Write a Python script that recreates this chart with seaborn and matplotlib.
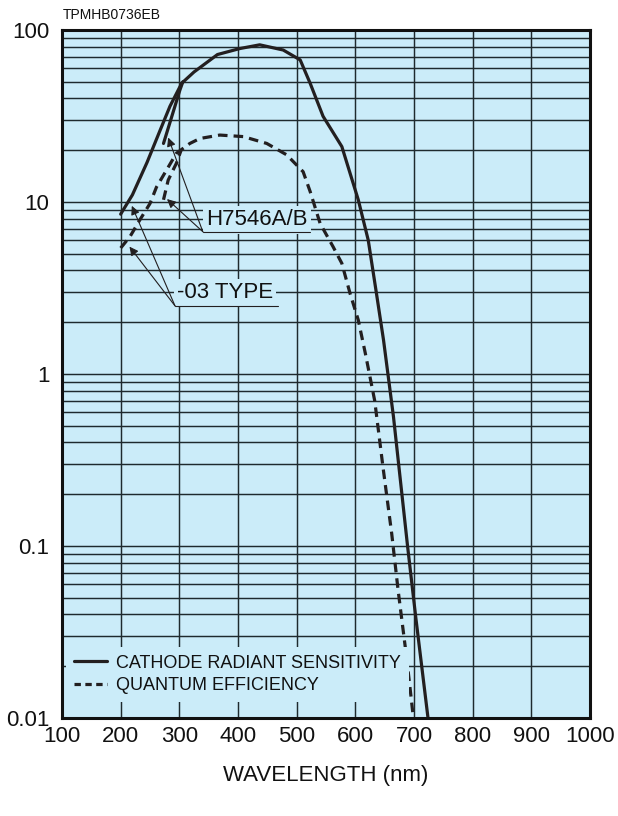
import matplotlib
matplotlib.use("Agg")
import matplotlib.pyplot as plt
from matplotlib.lines import Line2D
from matplotlib.ticker import FixedLocator, FixedFormatter, NullFormatter
import pandas as pd
import seaborn as sns

# -03 type: cathode radiant sensitivity (mA/W) vs wavelength (nm)
wl_sens_03 = [200, 220, 245, 267, 284, 304, 325, 365, 403, 437, 477, 506, 523,
              545, 577, 605, 622, 636, 648, 665, 689, 703, 725]
sens_03 = [8.5, 11, 17, 26, 36, 49, 57, 72, 78, 82, 76.5, 67, 49,
           31.5, 21, 10.3, 6.0, 2.94, 1.58, 0.565, 0.1, 0.0385, 0.0093]

# H7546A/B: short-wavelength branch of the cathode radiant sensitivity
wl_sens_ab = [273, 287, 301, 306]
sens_ab = [21.9, 31.3, 44.8, 50]

# -03 type: quantum efficiency (%) vs wavelength (nm)
wl_qe_03 = [200, 216, 233, 250, 261, 278, 295, 318, 335, 369, 409, 449, 483,
            511, 523, 540, 562, 577, 591, 605, 617, 633, 647, 662, 673, 688, 700]
qe_03 = [5.4, 6.3, 7.9, 9.8, 12.2, 15.3, 19.2, 21.9, 23.4, 24.5, 24, 21.9, 18.8,
         15, 11.5, 7.5, 5.5, 4.4, 2.94, 2.06, 1.32, 0.7, 0.29, 0.118, 0.055, 0.0216, 0.0093]

# H7546A/B: short-wavelength branch of the quantum efficiency
wl_qe_ab = [273, 281, 295, 303]
qe_ab = [10.3, 13.4, 16.8, 20]

x_ticks = [100, 200, 300, 400, 500, 600, 700, 800, 900, 1000]
y_major = [0.01, 0.1, 1, 10, 100]
y_labels = ["0.01", "0.1", "1", "10", "100"]

BG = "#cbecf9"
INK = "#231f20"
GRID = "#1e2a2e"

sns.set_style("white")
plt.rcParams["font.family"] = ["Liberation Sans", "DejaVu Sans"]

fig = plt.figure(figsize=(6.18, 8.16), dpi=100)
ax = fig.add_axes([62 / 618, 1 - 718 / 816, 528 / 618, 688 / 816])
ax.set_facecolor(BG)

solid_kw = dict(color=INK, linewidth=2.3, estimator=None, sort=False, legend=False)
dash_kw = dict(color=INK, linewidth=2.3, estimator=None, sort=False, legend=False,
               dashes=False)

sns.lineplot(data=pd.DataFrame({"wl": wl_sens_03, "v": sens_03}), x="wl", y="v",
             ax=ax, **solid_kw)
sns.lineplot(data=pd.DataFrame({"wl": wl_sens_ab, "v": sens_ab}), x="wl", y="v",
             ax=ax, **solid_kw)
l1 = sns.lineplot(data=pd.DataFrame({"wl": wl_qe_03, "v": qe_03}), x="wl", y="v",
                  ax=ax, **dash_kw).lines[-1]
l1.set_dashes((3.0, 1.9))
l2 = sns.lineplot(data=pd.DataFrame({"wl": wl_qe_ab, "v": qe_ab}), x="wl", y="v",
                  ax=ax, **dash_kw).lines[-1]
l2.set_dashes((3.0, 1.9))

ax.set_yscale("log")
ax.set_xlim(100, 1000)
ax.set_ylim(0.01, 100)

ax.xaxis.set_major_locator(FixedLocator(x_ticks))
ax.xaxis.set_major_formatter(FixedFormatter([str(v) for v in x_ticks]))
ax.yaxis.set_major_locator(FixedLocator(y_major))
ax.yaxis.set_major_formatter(FixedFormatter(y_labels))
minor = [m * 10.0 ** e for e in range(-2, 2) for m in range(2, 10)]
ax.yaxis.set_minor_locator(FixedLocator(minor))
ax.yaxis.set_minor_formatter(NullFormatter())

ax.tick_params(axis="both", which="both", length=0, labelsize=16, colors="#111111")
ax.tick_params(axis="y", pad=9)
ax.tick_params(axis="x", pad=6)

ax.set_axisbelow(True)
ax.grid(which="both", axis="both", color=GRID, linewidth=1.05)

for sp in ax.spines.values():
    sp.set_color("#111111")
    sp.set_linewidth(2.2)

ax.set_xlabel("WAVELENGTH (nm)", fontsize=16, labelpad=13, color="#111111")
ax.set_ylabel("")

fig.text(63 / 618, 1 - 15 / 816, "TPMHB0736EB", fontsize=10, va="center",
         ha="left", color="#111111")

# callout labels with underline and arrows
arrow_kw = dict(arrowstyle="-|>", color=INK, lw=0.8, mutation_scale=13,
                shrinkA=0, shrinkB=0)
box = dict(boxstyle="square,pad=0.15", fc=BG, ec="none")

ax.text(433, 7.87, "H7546A/B", fontsize=16, ha="center", va="center",
        color="#111111", bbox=box, zorder=4)
ax.plot([340, 523], [6.72, 6.72], color=INK, lw=0.8, zorder=5)
ax.annotate("", xy=(281, 23.7), xytext=(340, 6.72), arrowprops=arrow_kw, zorder=5)
ax.annotate("", xy=(279, 10.4), xytext=(340, 6.72), arrowprops=arrow_kw, zorder=5)

ax.text(378, 2.96, "-03 TYPE", fontsize=16, ha="center", va="center",
        color="#111111", bbox=box, zorder=4)
ax.plot([292.6, 468], [2.49, 2.49], color=INK, lw=0.8, zorder=5)
ax.annotate("", xy=(219, 9.5), xytext=(292.6, 2.49), arrowprops=arrow_kw, zorder=5)
ax.annotate("", xy=(215, 5.5), xytext=(292.6, 2.49), arrowprops=arrow_kw, zorder=5)

handles = [
    Line2D([], [], color=INK, lw=2.3),
    Line2D([], [], color=INK, lw=2.3, dashes=(2.0, 1.4)),
]
leg = ax.legend(handles, ["CATHODE RADIANT SENSITIVITY", "QUANTUM EFFICIENCY"],
                loc="lower left", bbox_to_anchor=(0.0076, 0.023), borderaxespad=0,
                borderpad=0.45, handlelength=1.8, handletextpad=0.5,
                labelspacing=0.3, frameon=True, fancybox=False,
                prop=dict(family=["Liberation Sans"], size=13))
leg.get_frame().set_facecolor(BG)
leg.get_frame().set_edgecolor("none")
leg.get_frame().set_alpha(1)
for t in leg.get_texts():
    t.set_color("#111111")

fig.savefig("out.png", dpi=100, facecolor="white")
